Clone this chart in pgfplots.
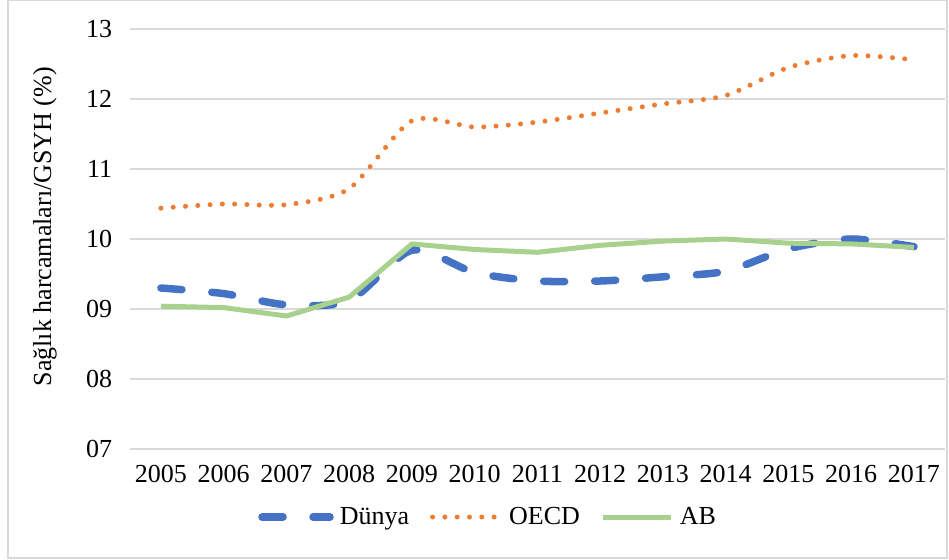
\documentclass[border=0pt]{standalone}
\usepackage{pgfplots}
\pgfplotsset{compat=1.18}
\usepackage{fontspec}
\setmainfont{Liberation Serif}
\definecolor{dunya}{HTML}{4472C4}
\definecolor{oecd}{HTML}{ED7D31}
\definecolor{ab}{HTML}{A9D18E}
\definecolor{gridc}{HTML}{D9D9D9}
\begin{document}
\begin{tikzpicture}
\begin{axis}[
    scale only axis,
    width=815.8pt, height=420pt,
    xmin=2004.5, xmax=2017.5,
    ymin=7, ymax=13,
    xtick={2005,...,2017},
    xticklabels={2005,2006,2007,2008,2009,2010,2011,2012,2013,2014,2015,2016,2017},
    ytick={7,...,13},
    yticklabels={07,08,09,10,11,12,13},
    /pgf/number format/assume math mode=true,
    font=\fontsize{26}{31}\selectfont,
    axis line style={draw=none},
    major tick length=0pt,
    ymajorgrids,
    grid style={color=gridc, line width=1.5pt},
    yticklabel style={xshift=-14pt},
    xticklabel style={yshift=-13pt},
    ylabel={Sağlık harcamaları/GSYH (\%)},
    ylabel style={at={(axis description cs:-0.1037,0.529)}, anchor=center},
    legend columns=-1,
    legend style={at={(0.4395,-0.162)}, anchor=center, draw=none,
      fill=none, font=\fontsize{26}{31}\selectfont,
      /tikz/every odd column/.append style={column sep=4pt},
      /tikz/every even column/.append style={column sep=19pt}},
    legend image code/.code={\draw[#1] (0pt,0pt) -- (68pt,0pt);},
]
\addplot[dunya, line width=7.5pt, line cap=round, dash pattern=on 21pt off 30pt, smooth, tension=0.45] coordinates {
  (2005,9.30) (2006,9.22) (2007,9.06) (2008,9.12) (2009,9.84) (2010,9.52)
  (2011,9.40) (2012,9.40) (2013,9.46) (2014,9.54) (2015,9.86) (2016,10.00) (2017,9.89)};
\addlegendentry{Dünya}
\addplot[oecd, line width=5pt, line cap=round, dash pattern=on 0pt off 12.3pt, smooth, tension=0.45] coordinates {
  (2005,10.44) (2006,10.50) (2007,10.49) (2008,10.72) (2009,11.69) (2010,11.60)
  (2011,11.67) (2012,11.80) (2013,11.93) (2014,12.05) (2015,12.45) (2016,12.62) (2017,12.56)};
\addlegendentry{OECD}
\addplot[ab, line width=5pt, line join=round] coordinates {
  (2005,9.04) (2006,9.02) (2007,8.90) (2008,9.17) (2009,9.93) (2010,9.85)
  (2011,9.81) (2012,9.91) (2013,9.97) (2014,10.00) (2015,9.94) (2016,9.93) (2017,9.88)};
\addlegendentry{AB}
\end{axis}
\draw[gridc, line width=1.2pt] ([shift={(-121.6pt,-109pt)}]current axis.south west) rectangle ([shift={(817.4pt,448.5pt)}]current axis.south west);
\pgfresetboundingbox
\path[use as bounding box] ([shift={(-129.6pt,-110pt)}]current axis.south west) rectangle ([shift={(819.4pt,449pt)}]current axis.south west);
\end{tikzpicture}
\end{document}
